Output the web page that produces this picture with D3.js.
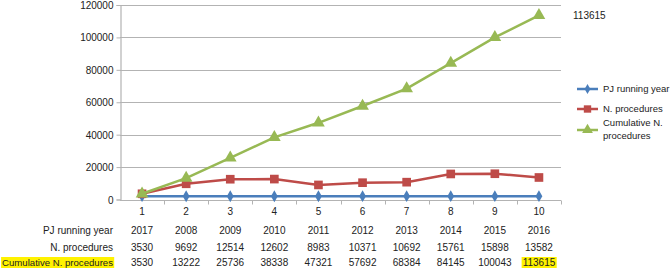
<!DOCTYPE html>
<html>
<head>
<meta charset="utf-8">
<script src="https://cdn.jsdelivr.net/npm/d3@7"></script>
<style>
  body { margin: 0; background: #fff; }
  text { font-family: "Liberation Sans", Arial, sans-serif; font-size: 10px; fill: #222; }
</style>
</head>
<body>
<div id="chart"></div>
<script>
// data
var categories = ["1", "2", "3", "4", "5", "6", "7", "8", "9", "10"];
var pjYear = [2017, 2008, 2009, 2010, 2011, 2012, 2013, 2014, 2015, 2016];
var nProcedures = [3530, 9692, 12514, 12602, 8983, 10371, 10692, 15761, 15898, 13582];
var cumulative = [3530, 13222, 25736, 38338, 47321, 57692, 68384, 84145, 100043, 113615];
var seriesNames = ["PJ running year", "N. procedures", "Cumulative N. procedures"];
var yTicks = [0, 20000, 40000, 60000, 80000, 100000, 120000];

var width = 672, height = 269;
var margin = {left: 120, right: 111, top: 5, bottom: 70};

var svg = d3.select("#chart").append("svg")
    .attr("width", width)
    .attr("height", height);

var highlights = svg.append("g");

var x = d3.scaleBand()
    .domain(categories)
    .range([margin.left, width - margin.right]);

var y = d3.scaleLinear()
    .domain([0, 120000])
    .range([height - margin.bottom + 0.5, margin.top]);

// gridlines
svg.append("g")
    .selectAll("line")
    .data(yTicks.slice(1))
    .enter().append("line")
    .attr("x1", margin.left)
    .attr("x2", width - margin.right)
    .attr("y1", function(d) { return Math.round(y(d)) + 0.5; })
    .attr("y2", function(d) { return Math.round(y(d)) + 0.5; })
    .style("stroke", "#b3b3b3")
    .style("stroke-width", 1.2);

// y axis
var yAxis = svg.append("g")
    .attr("transform", "translate(" + (margin.left + 0.5) + ",0)")
    .call(d3.axisLeft(y).tickValues(yTicks).tickSize(4).tickPadding(3).tickFormat(d3.format("d")));
yAxis.select(".domain").style("stroke", "#b3b3b3").style("stroke-width", 1.2);
yAxis.selectAll(".tick line").style("stroke", "#b3b3b3");
yAxis.selectAll(".tick text").attr("dy", "0.35em").style("font-size", "10px").style("fill", "#222")
    .style("font-family", "'Liberation Sans', Arial, sans-serif");

// x axis
var y0 = Math.round(y(0)) + 0.5;
svg.append("line")
    .attr("x1", margin.left).attr("x2", width - margin.right)
    .attr("y1", y0).attr("y2", y0)
    .style("stroke", "#b3b3b3").style("stroke-width", 1.2);

var bounds = categories.map(function(c) { return x(c); }).concat([x.range()[1]]);
svg.append("g").selectAll("line")
    .data(bounds.slice(1))
    .enter().append("line")
    .attr("x1", function(d) { return Math.round(d) + 0.5; })
    .attr("x2", function(d) { return Math.round(d) + 0.5; })
    .attr("y1", y0).attr("y2", y0 + 4)
    .style("stroke", "#b3b3b3");

svg.append("g").selectAll("text")
    .data(categories)
    .enter().append("text")
    .attr("x", function(d) { return x(d) + x.bandwidth() / 2; })
    .attr("y", y0 + 14)
    .attr("text-anchor", "middle")
    .text(function(d) { return d; });

var colors = ["#4a7ebb", "#be4b48", "#98b954"];
var seriesData = [pjYear, nProcedures, cumulative];

var line = d3.line()
    .x(function(d, i) { return x(categories[i]) + x.bandwidth() / 2; })
    .y(function(d) { return y(d); });

var symbols = [
  d3.symbol().type(d3.symbolDiamond).size(40),
  d3.symbol().type(d3.symbolSquare).size(75),
  d3.symbol().type(d3.symbolTriangle).size(70)
];

seriesData.forEach(function(vals, s) {
  svg.append("path")
      .datum(vals)
      .attr("d", line)
      .style("fill", "none")
      .style("stroke", colors[s])
      .style("stroke-width", 2.5);
  svg.append("g").selectAll("path")
      .data(vals)
      .enter().append("path")
      .attr("transform", function(d, i) {
        return "translate(" + (x(categories[i]) + x.bandwidth() / 2) + "," + y(d) + ")";
      })
      .attr("d", symbols[s])
      .style("fill", colors[s]);
});

// label of the last cumulative value
svg.append("text")
    .attr("x", 573)
    .attr("y", 19)
    .text(cumulative[cumulative.length - 1]);

// legend
var legendY = [89, 109, 130];
seriesNames.forEach(function(name, s) {
  var g = svg.append("g").attr("transform", "translate(577," + legendY[s] + ")");
  g.append("line").attr("x1", 0).attr("x2", 21)
      .style("stroke", colors[s]).style("stroke-width", 2.5);
  g.append("path").attr("transform", "translate(10.5,0) scale(0.85)").attr("d", symbols[s]).style("fill", colors[s]);
  var t = g.append("text").attr("x", 26).attr("y", 0).attr("dy", "0.35em").style("font-size", "9.5px");
  if (s === 2) {
    t.attr("dy", null);
    t.append("tspan").attr("x", 26).attr("y", -4).text("Cumulative N.");
    t.append("tspan").attr("x", 26).attr("y", 9).text("procedures");
  } else {
    t.text(name);
  }
});

// data table under the axis
var rowY = [234, 251, 266];
var fmt = d3.format("d");
seriesData.forEach(function(vals, s) {
  var lbl = svg.append("text")
      .attr("x", 113).attr("y", rowY[s])
      .attr("text-anchor", "end")
      .text(seriesNames[s]);
  if (s === 2) {
    lbl.style("font-size", "9.6px");
    var bb = lbl.node().getBBox();
    highlights.append("rect")
        .attr("x", bb.x - 1).attr("y", bb.y)
        .attr("width", bb.width + 2).attr("height", bb.height)
        .style("fill", "#fff200");
  }
  vals.forEach(function(v, i) {
    var cx = x(categories[i]) + x.bandwidth() / 2;
    var t = svg.append("text")
        .attr("x", cx).attr("y", rowY[s])
        .attr("text-anchor", "middle")
        .text(fmt(v));
    if (s === 2 && i === vals.length - 1) {
      var b = t.node().getBBox();
      highlights.append("rect")
          .attr("x", b.x - 1).attr("y", b.y)
          .attr("width", b.width + 2).attr("height", b.height)
          .style("fill", "#fff200");
    }
  });
});
</script>
</body>
</html>
